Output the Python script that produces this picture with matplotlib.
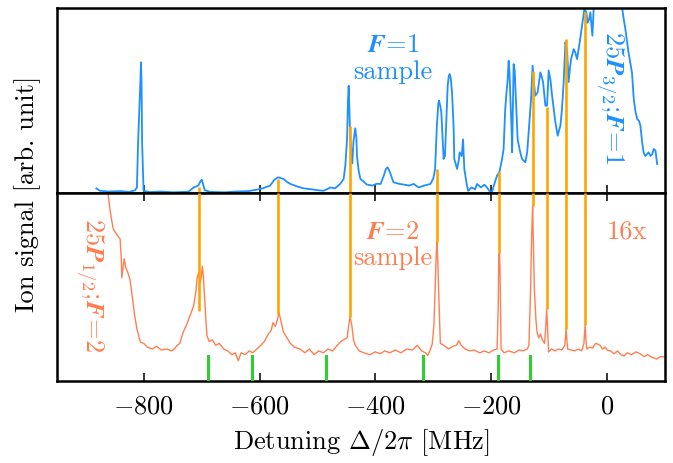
import numpy as np
import matplotlib
matplotlib.use("Agg")
import matplotlib.pyplot as plt

plt.rcParams['font.family'] = 'serif'
plt.rcParams['font.serif'] = ['cmr10']
plt.rcParams['mathtext.fontset'] = 'cm'
plt.rcParams['axes.formatter.use_mathtext'] = True

# ---------------- data ----------------
top_x = [-882, -876, -860, -840, -825, -815, -812, -810, -806, -805, -804, -803, -800.5, -790, -770, -750,
         -735, -723, -714, -706, -702, -700, -697, -695, -685, -660, -640, -620, -605, -595, -582, -575,
         -568.5, -563, -558.8, -553, -547, -535, -524, -510, -500, -490, -484, -478, -470, -461, -455,
         -452, -449, -447.5, -446.3, -445, -443.6, -441, -440, -438, -435, -433, -432, -429, -426, -420,
         -414.7, -405, -398, -391, -385, -382, -379, -376, -374, -369, -360, -350, -342, -334, -325.5,
         -316, -305, -300, -297, -294, -291.5, -290.4, -288, -286.3, -282.3, -280, -277, -275.3, -273.5,
         -272, -270, -267.8, -265, -263.9, -259, -256, -254.7, -251, -248.8, -246.6, -242, -240, -234,
         -228, -224.6, -218, -212, -207.4, -203, -198.7, -193, -190, -186, -181.4, -178.7, -176, -174,
         -172, -170, -168.5, -167, -165, -164, -162.5, -161.4, -159.5, -158, -154.5, -150, -146.9, -141.2,
         -138, -135.5, -131.3, -128.6, -126.5, -124, -120, -117.5, -115.3, -113, -110.6, -106.6, -103.7,
         -100.9, -98, -95, -92, -89.3, -85.3, -80.7, -78, -75, -72, -70.5, -69.1, -66.4, -64, -62.2,
         -57.7, -55, -51.8, -47.3, -43.2, -39.2, -35.8, -33.5, -31, -28.9, -25.4, -23.2, -20, -10, 0,
         10, 20, 26, 28.7, 31.6, 37, 43, 46, 49, 52, 55, 57.5, 60.5, 63, 66, 69, 71.7, 75, 78, 80.5, 83.5,
         86.4]
top_y = [0.025, 0.012, 0.008, 0.01, 0.006, 0.015, 0.03, 0.27, 0.6, 0.706, 0.6, 0.27, 0.012, 0.005, 0.008, 0.004,
         0.006, 0.007, 0.03, 0.04, 0.065, 0.072, 0.04, 0.015, 0.006, 0.004, 0.008, 0.01, 0.018, 0.025, 0.04, 0.07,
         0.085, 0.08, 0.076, 0.06, 0.049, 0.035, 0.025, 0.02, 0.015, 0.012, 0.02, 0.03, 0.025, 0.049, 0.076,
         0.15, 0.3, 0.5, 0.58, 0.45, 0.3, 0.2, 0.16, 0.28, 0.35, 0.3, 0.2, 0.12, 0.076, 0.06,
         0.045, 0.04, 0.05, 0.049, 0.1, 0.13, 0.139, 0.12, 0.103, 0.058, 0.05, 0.045, 0.04, 0.049, 0.03,
         0.04, 0.049, 0.08, 0.13, 0.364, 0.48, 0.5, 0.47, 0.436, 0.184, 0.2, 0.45, 0.58, 0.63,
         0.643, 0.62, 0.544, 0.35, 0.184, 0.13, 0.18, 0.22, 0.2, 0.29, 0.13, 0.04, 0.012, 0.03,
         0.02, 0.049, 0.03, 0.045, 0.03, 0.01, 0.007, 0.066, 0.094, 0.112, 0.184, 0.238, 0.45, 0.535,
         0.6, 0.715, 0.65, 0.51, 0.35, 0.22, 0.5, 0.697, 0.66, 0.544, 0.29, 0.22, 0.184, 0.166,
         0.22, 0.328, 0.508, 0.688, 0.6, 0.526, 0.544, 0.6, 0.652, 0.63, 0.6, 0.472, 0.472,
         0.662, 0.616, 0.526, 0.45, 0.382, 0.31, 0.364, 0.45, 0.6, 0.815, 0.79, 0.77, 0.6, 0.68, 0.724,
         0.778, 0.76, 0.724, 0.815, 0.904, 0.995, 0.977, 0.92, 0.94, 0.977, 0.85, 0.995, 1.1, 1.2, 1.25,
         1.2, 1.1, 1.0, 0.94, 0.886, 0.76, 0.65, 0.51, 0.44, 0.4, 0.39, 0.364, 0.276, 0.22, 0.2, 0.21, 0.22, 0.2, 0.21, 0.238, 0.23,
         0.157]

bot_x = [-870, -862, -858, -853, -847, -841, -839, -838, -836, -834, -831, -828, -824, -820, -816, -812, -806,
         -800, -794, -785, -778, -770, -760, -752, -746, -743, -738, -732, -726, -720, -714, -710, -708, -705,
         -703, -701, -699, -697, -696, -693, -691, -687, -682, -676, -670, -662, -655, -648, -642, -637, -632,
         -625, -618, -612, -605, -598, -592, -585, -580, -577, -573, -569, -567, -564, -559, -553, -547, -540,
         -530, -522, -514, -506, -498, -490, -482, -474, -466, -461, -455, -449, -446, -444, -441, -438, -435,
         -428, -420, -410, -400, -392, -384, -375, -366, -356, -346, -336, -328, -320, -314, -310, -306, -302,
         -299, -297, -295, -294, -292.5, -291, -289, -288, -282, -274, -266, -260, -256, -252, -245, -238, -230,
         -220, -212, -204, -196, -190, -188, -187, -186, -185, -183.5, -183, -178, -170, -160, -152, -145, -138,
         -135, -132, -131, -129.5, -128.6, -127, -125.6, -123, -121, -118, -115, -112, -108, -106, -104.4, -103,
         -101, -96, -90, -84, -78, -73, -70.8, -69, -68, -62, -56, -50, -44, -40, -38, -36, -35, -30, -25, -20,
         -17, -12, -8, -3, 0, 6, 12, 18, 24, 29, 35, 42, 50, 57.6, 64, 70, 78, 86, 92, 98]
bot_y = [1.1, 1.0, 0.9, 0.81, 0.78, 0.755, 0.65, 0.55, 0.6, 0.65, 0.6, 0.58, 0.54, 0.45, 0.35, 0.277, 0.207,
         0.2, 0.18, 0.17, 0.185, 0.165, 0.17, 0.16, 0.175, 0.188, 0.2, 0.26, 0.3, 0.35, 0.4, 0.48, 0.55, 0.58,
         0.52, 0.55, 0.61, 0.55, 0.49, 0.33, 0.24, 0.21, 0.22, 0.19, 0.2, 0.17, 0.16, 0.14, 0.15, 0.108, 0.15,
         0.14, 0.16, 0.15, 0.17, 0.19, 0.21, 0.25, 0.27, 0.31, 0.29, 0.33, 0.366, 0.33, 0.26, 0.23, 0.2, 0.18,
         0.17, 0.15, 0.17, 0.14, 0.16, 0.15, 0.17, 0.16, 0.19, 0.207, 0.22, 0.23, 0.3, 0.34, 0.3, 0.22, 0.19,
         0.16, 0.15, 0.14, 0.155, 0.145, 0.16, 0.15, 0.165, 0.15, 0.17, 0.165, 0.19, 0.16, 0.15, 0.136, 0.16, 0.197,
         0.3, 0.49, 0.68, 0.738, 0.65, 0.49, 0.3, 0.2, 0.19, 0.17, 0.185, 0.19, 0.215, 0.19, 0.17, 0.16, 0.165,
         0.15, 0.16, 0.15, 0.165, 0.17, 0.4, 0.67, 0.68, 0.6, 0.3, 0.17, 0.15, 0.16, 0.15, 0.165, 0.16, 0.17,
         0.19, 0.5, 0.67, 0.85, 0.93, 0.7, 0.49, 0.33, 0.26, 0.23, 0.25, 0.22, 0.2, 0.28, 0.383, 0.3,
         0.154, 0.17, 0.16, 0.17, 0.165, 0.19, 0.277, 0.2, 0.17, 0.165, 0.16, 0.17, 0.16, 0.2, 0.298, 0.2, 0.17, 0.18, 0.175, 0.2,
         0.197, 0.19, 0.17, 0.18, 0.165, 0.16, 0.145, 0.16, 0.14, 0.133, 0.15, 0.14, 0.155, 0.144, 0.13, 0.14, 0.125, 0.117, 0.13, 0.128]

# transition lines connecting the two spectra
line_x = [-704, -568.5, -444.8, -293.8, -186.1, -128.6, -104.4, -70.8, -38.0]
line_top_h = [0.03, 0.075, 0.36, 0.13, 0.115, 0.66, 0.463, 0.83, 0.98]
line_bot_h = [0.374, 0.356, 0.342, 0.738, 0.68, 0.93, 0.383, 0.277, 0.298]

# green markers
marker_x = [-689.6, -612.6, -485.2, -318.5, -188.9, -132.6]

xticks = [-800, -600, -400, -200, 0]

BLUE = '#1E90FF'
CORAL = '#FF7F50'
ORANGE = '#FFA500'
GREEN = '#32CD32'
FS = 19

fig = plt.figure(figsize=(6.73, 4.64), dpi=100)
ax1 = fig.add_axes([57/673, 270/464, 608/673, 185/464])
ax2 = fig.add_axes([57/673, 82/464, 608/673, 188/464], sharex=ax1)

ax1.plot(top_x, top_y, color=BLUE, lw=1.3, zorder=2)
ax1.vlines(line_x, 0, line_top_h, color=ORANGE, lw=1.9, zorder=3)
ax2.plot(bot_x, bot_y, color=CORAL, lw=1.0, zorder=2)
ax2.vlines(line_x, line_bot_h, 1, color=ORANGE, lw=1.9, zorder=3)
for mx in marker_x:
    ax2.axvline(mx, ymin=0, ymax=0.135, color=GREEN, lw=2.2, zorder=3)

for ax in (ax1, ax2):
    ax.set_xlim(-950, 100)
    ax.set_ylim(0, 1)
    ax.set_yticks([])
    for s in ax.spines.values():
        s.set_linewidth(1.8)
    ax.set_xticks(xticks)
ax1.tick_params(axis='x', direction='in', length=6, width=1.1, bottom=True, top=False, labelbottom=False)
ax2.tick_params(axis='x', direction='in', length=6, width=1.1, bottom=True, top=True,
                labelsize=FS, pad=9)

ax2.set_xlabel(r'Detuning $\Delta/2\pi$ [MHz]', fontsize=FS, labelpad=6)
fig.text(0.041, 0.582, 'Ion signal [arb. unit]', rotation=90, fontsize=FS, ha='center', va='center')

ax1.text(0.553, 0.805, r'$\boldsymbol{F}\!=\!\mathbf{1}$', transform=ax1.transAxes, color=BLUE,
         fontsize=FS, ha='center', va='center')
ax1.text(0.553, 0.66, 'sample', transform=ax1.transAxes, color=BLUE, fontsize=FS, ha='center', va='center')
ax1.text(0.9095, 0.519, r'$\mathbf{25}\boldsymbol{P}_{\mathbf{3/2}}\mathbf{;}\!\boldsymbol{F}\!=\!\mathbf{1}$',
         transform=ax1.transAxes, color=BLUE, fontsize=FS, ha='center', va='center', rotation=270)

ax2.text(0.553, 0.798, r'$\boldsymbol{F}\!=\!\mathbf{2}$', transform=ax2.transAxes, color=CORAL,
         fontsize=FS, ha='center', va='center')
ax2.text(0.553, 0.66, 'sample', transform=ax2.transAxes, color=CORAL, fontsize=FS, ha='center', va='center')
ax2.text(0.9375, 0.798, '16x', transform=ax2.transAxes, color=CORAL, fontsize=FS, ha='center', va='center')
ax2.text(0.054, 0.516, r'$\mathbf{25}\boldsymbol{P}_{\mathbf{1/2}}\mathbf{;}\!\boldsymbol{F}\!=\!\mathbf{2}$',
         transform=ax2.transAxes, color=CORAL, fontsize=FS, ha='center', va='center', rotation=270)

fig.savefig('out.png', dpi=100)
